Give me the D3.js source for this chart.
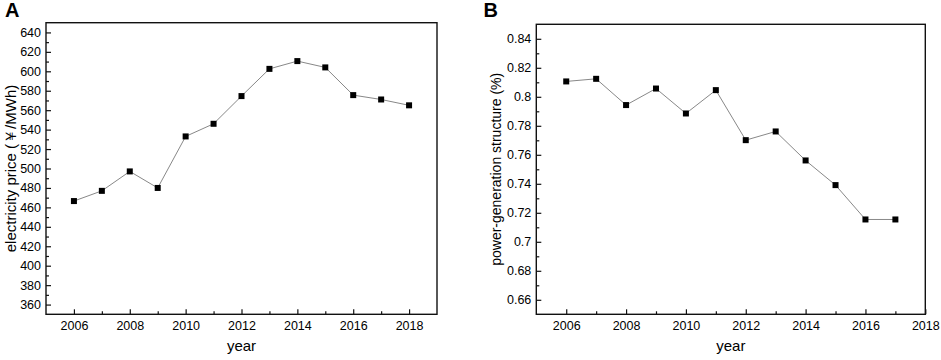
<!DOCTYPE html>
<html>
<head>
<meta charset="utf-8">
<script src="https://cdn.jsdelivr.net/npm/d3@7"></script>
<style>
  body { margin: 0; background: #fff; }
  svg { display: block; font-family: "Liberation Sans", Arial, sans-serif; }
</style>
</head>
<body>
<svg id="chart" width="941" height="360"></svg>
<script>
// ---- data ----
const yearsA = [2006, 2007, 2008, 2009, 2010, 2011, 2012, 2013, 2014, 2015, 2016, 2017, 2018];
const priceA = [466.5, 477, 497, 480, 533, 546, 574.5, 602.5, 610.5, 604, 575.5, 571, 565];

const yearsB = [2006, 2007, 2008, 2009, 2010, 2011, 2012, 2013, 2014, 2015, 2016, 2017];
const structB = [0.8106, 0.8124, 0.7943, 0.8057, 0.7885, 0.8046, 0.7701, 0.7761, 0.7561, 0.7391, 0.7154, 0.7154];

const xTicksA = [2006, 2008, 2010, 2012, 2014, 2016, 2018];
const xMinorA = [2007, 2009, 2011, 2013, 2015, 2017];
const yTicksA = [360, 380, 400, 420, 440, 460, 480, 500, 520, 540, 560, 580, 600, 620, 640];
const yMinorA = [370, 390, 410, 430, 450, 470, 490, 510, 530, 550, 570, 590, 610, 630];

const xTicksB = [2006, 2008, 2010, 2012, 2014, 2016, 2018];
const xMinorB = [2007, 2009, 2011, 2013, 2015, 2017];
const yTicksB = [0.66, 0.68, 0.70, 0.72, 0.74, 0.76, 0.78, 0.80, 0.82, 0.84];
const yMinorB = [0.67, 0.69, 0.71, 0.73, 0.75, 0.77, 0.79, 0.81, 0.83];

const svg = d3.select("#chart");

function panel(cfg) {
  const g = svg.append("g");
  const x = d3.scaleLinear().domain(cfg.xDomain).range([cfg.left, cfg.right]);
  const y = d3.scaleLinear().domain(cfg.yDomain).range([cfg.bottom, cfg.top]);

  // minor ticks
  g.append("g").attr("transform", `translate(0,${cfg.bottom})`)
    .call(d3.axisBottom(x).tickValues(cfg.xMinor).tickSize(-3).tickFormat(""))
    .call(s => s.select(".domain").remove());
  g.append("g").attr("transform", `translate(${cfg.left},0)`)
    .call(d3.axisLeft(y).tickValues(cfg.yMinor).tickSize(-3).tickFormat(""))
    .call(s => s.select(".domain").remove());

  // major ticks
  const xa = g.append("g").attr("transform", `translate(0,${cfg.bottom})`)
    .call(d3.axisBottom(x).tickValues(cfg.xTicks).tickSize(-5).tickPadding(7).tickFormat(d3.format("d")));
  xa.select(".domain").remove();
  const ya = g.append("g").attr("transform", `translate(${cfg.left},0)`)
    .call(d3.axisLeft(y).tickValues(cfg.yTicks).tickSize(-5).tickPadding(5).tickFormat(cfg.yFormat));
  ya.select(".domain").remove();

  g.selectAll(".tick line").attr("stroke", "#111").attr("stroke-width", 1.2);
  g.selectAll(".tick text").attr("font-size", 12.5).attr("fill", "#000")
    .attr("font-family", "'Liberation Sans', Arial, sans-serif");

  // frame
  g.append("rect")
    .attr("x", cfg.left).attr("y", cfg.top)
    .attr("width", cfg.right - cfg.left).attr("height", cfg.bottom - cfg.top)
    .attr("fill", "none").attr("stroke", "#111").attr("stroke-width", 1.4);

  // line
  const data = cfg.xs.map((d, i) => [d, cfg.ys[i]]);
  g.append("path").datum(data)
    .attr("fill", "none").attr("stroke", "#888").attr("stroke-width", 1)
    .attr("d", d3.line().x(d => x(d[0])).y(d => y(d[1])));

  // markers
  g.selectAll("rect.pt").data(data).join("rect").attr("class", "pt")
    .attr("x", d => x(d[0]) - 3).attr("y", d => y(d[1]) - 3)
    .attr("width", 6).attr("height", 6).attr("fill", "#000");

  // titles
  g.append("text")
    .attr("x", (cfg.left + cfg.right) / 2).attr("y", 351)
    .attr("text-anchor", "middle").attr("font-size", 15).attr("fill", "#000")
    .text("year");
  g.append("text")
    .attr("transform", `translate(${cfg.yTitleX},${(cfg.top + cfg.bottom) / 2}) rotate(-90)`)
    .attr("text-anchor", "middle").attr("font-size", cfg.yTitleSize).attr("fill", "#000")
    .text(cfg.yTitle);
  g.append("text")
    .attr("x", cfg.labelX).attr("y", 17.3)
    .attr("font-size", 20).attr("font-weight", "bold").attr("fill", "#000")
    .text(cfg.label);
}

panel({
  left: 46, right: 437, top: 22.7, bottom: 314.3,
  xDomain: [2005, 2019], yDomain: [350, 650],
  xTicks: xTicksA, xMinor: xMinorA, yTicks: yTicksA, yMinor: yMinorA,
  yFormat: d3.format("d"),
  xs: yearsA, ys: priceA,
  yTitle: "electricity price (￥/MWh)", yTitleX: 15.5, yTitleSize: 15,
  label: "A", labelX: 5
});

panel({
  left: 536.3, right: 925.3, top: 24.3, bottom: 314.3,
  xDomain: [2005, 2018], yDomain: [0.65, 0.85],
  xTicks: xTicksB, xMinor: xMinorB, yTicks: yTicksB, yMinor: yMinorB,
  yFormat: d => String(+d.toFixed(2)),
  xs: yearsB, ys: structB,
  yTitle: "power-generation structure (%)", yTitleX: 500.5, yTitleSize: 14,
  label: "B", labelX: 483.5
});
</script>
</body>
</html>
